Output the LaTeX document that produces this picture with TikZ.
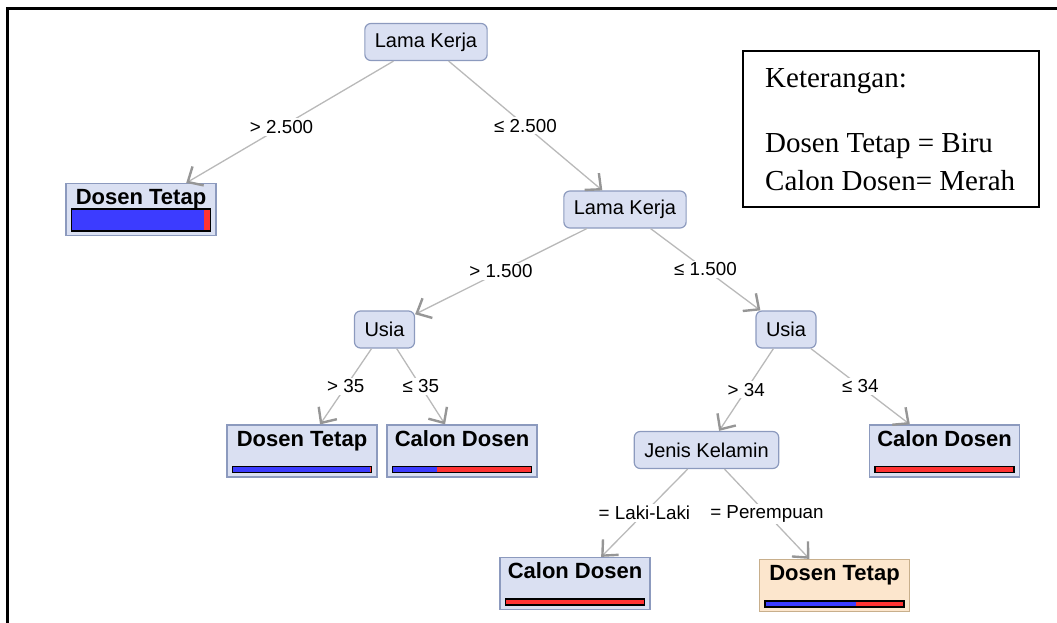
\documentclass[tikz,border=0pt]{standalone}
\usepackage{fontspec}
\setmainfont{Liberation Serif}
\setsansfont{Liberation Sans}
\usetikzlibrary{arrows.meta}

\definecolor{nodefill}{RGB}{218,224,242}
\definecolor{nodeline}{RGB}{140,154,190}
\definecolor{pickfill}{RGB}{252,230,205}
\definecolor{pickline}{RGB}{200,175,140}
\definecolor{barblue}{RGB}{60,60,255}
\definecolor{barred}{RGB}{255,51,51}
\definecolor{edgegray}{RGB}{185,185,185}
\definecolor{tipgray}{RGB}{150,150,150}

% class bar under a leaf: node, blue width, bar height
\newcommand{\leafbar}[3]{%
  \fill[barblue] ([shift={(6,-5)}]#1.south west) rectangle ++(#2,-#3);
  \fill[barred] ([shift={(6+#2,-5)}]#1.south west) rectangle ([shift={(-6,-5-#3)}]#1.south east);
  \draw[line width=1.4] ([shift={(6,-5)}]#1.south west) rectangle ([shift={(-6,-5-#3)}]#1.south east);}

\tikzset{
  split/.style={draw=nodeline, fill=nodefill, rounded corners=6, line width=1.2,
    minimum height=37, inner xsep=10, font=\fontsize{20}{24}\selectfont\sffamily},
  leaf/.style={draw=nodeline, fill=nodefill, line width=1.2, minimum width=150,
    minimum height=52, inner ysep=3, text height=18, text depth=28,
    font=\fontsize{22}{26}\selectfont\sffamily\bfseries},
  picked/.style={leaf, draw=pickline, fill=pickfill},
  branch/.style={every edge/.style={draw=edgegray, line width=1.3,
    -{Straight Barb[length=12pt, width=22pt, line width=2.4pt, color=tipgray]}}},
  cond/.style={fill=white, inner sep=2, font=\fontsize{18.8}{22}\selectfont\sffamily},
  legend/.style={anchor=base west, inner sep=0, font=\fontsize{29}{34}\selectfont\rmfamily}
}

\begin{document}
\begin{tikzpicture}[x=1pt, y=-1pt]
    \useasboundingbox (0,0) rectangle (1057,623);
    \draw[line width=2.5] (7.5,623) |- (1057,8.5);

    \node[split] (kerja1) at (426,42) {Lama Kerja};
    \node[leaf] (tetap1) at (141,209.5) {Dosen Tetap};
    \node[split] (kerja2) at (625,209.5) {Lama Kerja};
    \node[split] (usia1) at (384.5,329.5) {Usia};
    \node[split] (usia2) at (786,329.5) {Usia};
    \node[leaf] (tetap2) at (302,451) {Dosen Tetap};
    \node[leaf] (calon1) at (462,451) {Calon Dosen};
    \node[split] (kelamin) at (706.5,450) {Jenis Kelamin};
    \node[leaf] (calon2) at (944.5,451) {Calon Dosen};
    \node[leaf] (calon3) at (575,583.5) {Calon Dosen};
    \node[picked] (tetap3) at (834.5,585.5) {Dosen Tetap};

    \leafbar{tetap1}{133}{22}
    \leafbar{tetap2}{138}{6}
    \leafbar{calon1}{45}{6}
    \leafbar{calon2}{0}{6}
    \leafbar{calon3}{0}{6}
    \leafbar{tetap3}{91}{6}

    \path[branch] (kerja1) edge node[cond, pos=0.54] {> 2.500} (tetap1);
    \path[branch] (kerja1) edge node[cond] {≤ 2.500} (kerja2);
    \path[branch] (kerja2) edge node[cond] {> 1.500} (usia1);
    \path[branch] (kerja2) edge node[cond] {≤ 1.500} (usia2);
    \path[branch] (usia1) edge node[cond] {> 35} (tetap2);
    \path[branch] (usia1) edge node[cond] {≤ 35} (calon1);
    \path[branch] (usia2) edge node[cond] {> 34} (kelamin);
    \path[branch] (usia2) edge node[cond] {≤ 34} (calon2);
    \path[branch] (kelamin) edge node[cond] {= Laki-Laki} (calon3);
    \path[branch] (kelamin) edge node[cond] {= Perempuan} (tetap3);

    % legend
    \node[draw, line width=1.2, minimum width=296, minimum height=156] (keybox) at (891,129) {};
    \node[legend] (key) at (765,88) {Keterangan:};
    \node[legend] (keyblue) at (765,152) {Dosen Tetap = Biru};
    \node[legend] (keyred) at (765,190) {Calon Dosen= Merah};
\end{tikzpicture}
\end{document}
